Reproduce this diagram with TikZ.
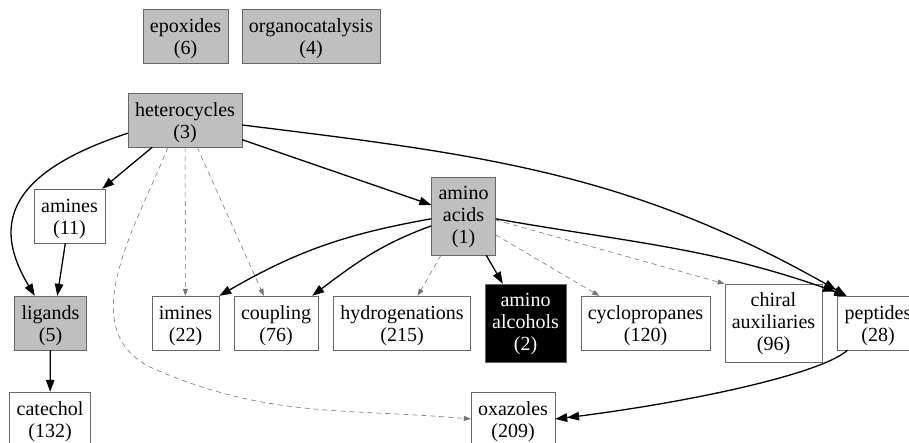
\documentclass[tikz,border=0pt]{standalone}
\usepackage{fontspec}
\setmainfont{Liberation Serif}
\usetikzlibrary{arrows.meta}

\begin{document}
\begin{tikzpicture}[x=1pt, y=1pt,
  font=\fontsize{20}{22}\selectfont,
  topic/.style={draw=black!60, rectangle, align=center, inner xsep=7pt,
    inner ysep=5pt, text height=40.5pt, text depth=3.5pt},
  tall/.style={text height=61.5pt, text depth=6.5pt},
  seen/.style={topic, fill=black!25},
  picked/.style={topic, fill=black, text=white},
  hard/.style={line width=1.3pt, -{Triangle[length=12pt,width=8.5pt]}},
  twin/.style={line width=1.3pt,
    -{Triangle[length=12pt,width=8.5pt] Triangle[length=12pt,width=8.5pt]}},
  soft/.style={black!55, line width=0.6pt, dash pattern=on 5pt off 4pt,
    -{Triangle[length=7pt,width=5pt]}}]
\useasboundingbox (0,0) rectangle (909,-442);

\node[seen] (epox) at (185.5,-36) {epoxides\\(6)};
\node[seen] (organo) at (311,-36) {organocatalysis\\(4)};
\node[seen] (hetero) at (185,-120) {heterocycles\\(3)};
\node[topic] (amines) at (69.5,-216) {amines\\(11)};
\node[seen, tall] (acids) at (463.5,-216) {amino\\acids\\(1)};

\node[seen] (ligands) at (50.5,-323) {ligands\\(5)};
\node[topic] (imines) at (185.5,-323) {imines\\(22)};
\node[topic] (coupling) at (276,-323) {coupling\\(76)};
\node[topic] (hydro) at (402,-323) {hydrogenations\\(215)};
\node[picked, tall] (alcohols) at (525.5,-323) {amino\\alcohols\\(2)};
\node[topic] (cyclo) at (645.5,-323) {cyclopropanes\\(120)};
\node[topic, tall] (chiral) at (773.5,-323) {chiral\\auxiliaries\\(96)};
\node[topic] (peptides) at (878,-323) {peptides\\(28)};

\node[topic] (catechol) at (50,-419) {catechol\\(132)};
\node[topic] (oxazoles) at (513,-419) {oxazoles\\(209)};

\draw[hard] (hetero.193) .. controls (0,-175) and (-5,-230) .. (ligands.120);
\draw[hard] (hetero) -- (amines);
\draw[soft] (hetero) -- (imines);
\draw[soft] (hetero) -- (coupling);
\draw[hard] (hetero) -- (acids);
\draw[twin] (hetero.-5) to[out=-7,in=150] ([xshift=9]peptides.north west);
\draw[soft] (hetero.238) to[out=248,in=153] (150,-367)
  to[out=-24,in=175] (oxazoles.west);

\draw[hard] (amines) -- (ligands.76);
\draw[hard] (ligands) -- (catechol);

\draw[hard] (acids.185) to[out=190,in=30] (imines.north east);
\draw[hard] (acids.197) to[out=200,in=37] ([xshift=-6]coupling.north east);
\draw[soft] (acids) -- (hydro);
\draw[hard] (acids) -- (alcohols);
\draw[soft] (acids) -- (cyclo);
\draw[soft] (acids.-7) -- (chiral.north west);
\draw[twin] (acids.-5) to[out=-10,in=160] ([xshift=9]peptides.north west);

\draw[twin] ([xshift=10]peptides.south west) .. controls (820,-375) and (680,-404) .. (oxazoles.east);
\end{tikzpicture}
\end{document}
